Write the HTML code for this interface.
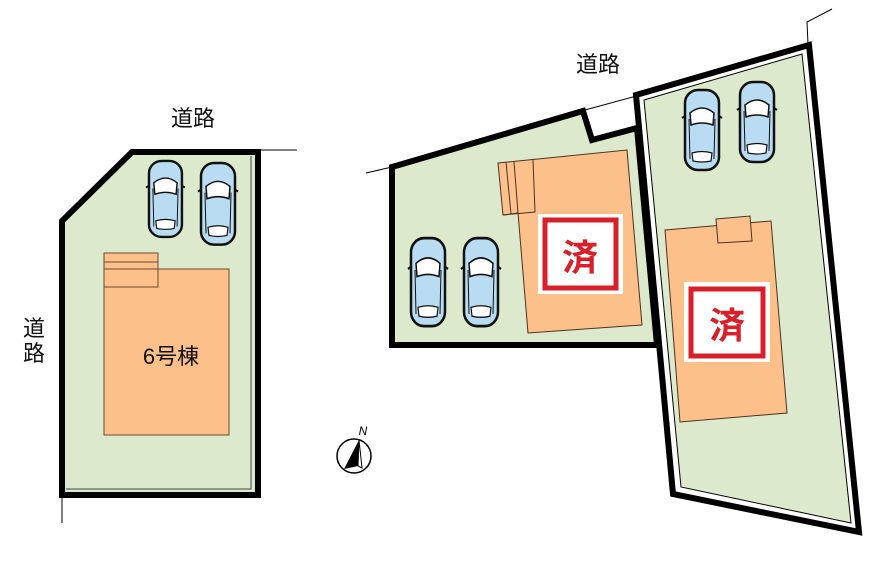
<!DOCTYPE html>
<html><head><meta charset="utf-8"><style>
html,body{margin:0;padding:0;background:#fff;width:889px;height:563px;overflow:hidden}
svg{display:block}
text{font-family:"Liberation Sans","Noto Sans CJK JP",sans-serif}
</style></head><body>
<svg width="889" height="563" viewBox="0 0 889 563" xmlns="http://www.w3.org/2000/svg">
<defs>
<g id="car">
<rect x="1" y="1" width="34" height="80" rx="13" fill="#b9dcf3" stroke="#111" stroke-width="2.5"/>
<path d="M6 24 Q18 14 30 24 L29 36 Q18 32 7 36 Z" fill="#fff" stroke="#111" stroke-width="1.5"/>
<path d="M8 64 Q18 61 28 64 L27 72 Q18 74 9 72 Z" fill="#fff" stroke="#111" stroke-width="1.2"/>
<line x1="5" y1="30" x2="6" y2="70" stroke="#111" stroke-width="1"/>
<line x1="31" y1="30" x2="30" y2="70" stroke="#111" stroke-width="1"/>
<path d="M1 27 l-3 2 M35 27 l3 2" stroke="#111" stroke-width="2"/>
</g>
</defs>

<!-- Left lot -->
<polygon points="132,152 258,152 258,495 62,495 62,221" fill="#dde9cc" stroke="#000" stroke-width="6" stroke-linejoin="miter"/>
<line x1="62" y1="221" x2="62" y2="523" stroke="#000" stroke-width="1"/>
<line x1="258" y1="150" x2="297" y2="150" stroke="#000" stroke-width="1"/>
<polyline points="66,489 251,489 251,156" fill="none" stroke="#444" stroke-width="1"/>
<rect x="104" y="269" width="125" height="166" fill="#fdc08a" stroke="#6a4a2a" stroke-width="1"/>
<rect x="104" y="253" width="54" height="34" fill="#fdc08a" stroke="#6a4a2a" stroke-width="1"/>
<line x1="104" y1="262" x2="158" y2="262" stroke="#6a4a2a" stroke-width="1"/>
<line x1="104" y1="269" x2="158" y2="269" stroke="#6a4a2a" stroke-width="1"/>
<use href="#car" transform="translate(148,160) scale(0.97,0.95)"/>
<use href="#car" transform="translate(200,162) scale(1.0,1.02)"/>
<text x="171" y="364" font-size="22" text-anchor="middle" fill="#111">6号棟</text>
<text x="193" y="126" font-size="22" text-anchor="middle" fill="#111">道路</text>
<text x="34" y="336" font-size="22" text-anchor="middle" fill="#111">道</text>
<text x="34" y="361" font-size="22" text-anchor="middle" fill="#111">路</text>

<!-- Middle lot -->
<line x1="366" y1="173" x2="392" y2="167" stroke="#000" stroke-width="1"/>
<line x1="585" y1="110" x2="640" y2="95" stroke="#000" stroke-width="1"/>
<polygon points="392,167 583,111 592,140 637,128 657,345 392,345" fill="#dde9cc" stroke="#000" stroke-width="6"/>
<polygon points="498,163 627,150 642,325 528,333 518,213 503,215" fill="#fdc08a" stroke="#4a3020" stroke-width="1"/>
<polyline points="503,215 535,212 533,160" fill="none" stroke="#4a3020" stroke-width="1"/>
<line x1="506" y1="162" x2="511" y2="214" stroke="#4a3020" stroke-width="1"/>
<line x1="514" y1="162" x2="518" y2="213" stroke="#4a3020" stroke-width="1"/>
<rect x="538" y="214" width="85" height="80" fill="#fff"/>
<rect x="545" y="220" width="71" height="68" fill="none" stroke="#d7202a" stroke-width="5"/>
<text x="580" y="270" font-size="36" font-weight="bold" text-anchor="middle" fill="#d7202a">済</text>
<use href="#car" transform="translate(410,237) scale(1.0,1.1)"/>
<use href="#car" transform="translate(463,237) scale(1.0,1.1)"/>
<text x="598" y="72" font-size="22" text-anchor="middle" fill="#111">道路</text>

<!-- Right lot -->
<polyline points="808,44 807,22 832,9" fill="none" stroke="#000" stroke-width="1"/>
<polygon points="636,95 809,45 859,532 673,494" fill="#fff" stroke="#000" stroke-width="6"/>
<polygon points="644,100 802,54 851,523 681,487" fill="#dde9cc" stroke="#000" stroke-width="1"/>
<polygon points="665,230 771,221 787,413 680,422" fill="#fdc08a" stroke="#4a3020" stroke-width="1"/>
<polygon points="716,219 750,216 752,241 718,243" fill="#fdc08a" stroke="#4a3020" stroke-width="1"/>
<rect x="684" y="282" width="86" height="80" fill="#fff"/>
<rect x="691" y="289" width="72" height="67" fill="none" stroke="#d7202a" stroke-width="5"/>
<text x="727" y="338" font-size="36" font-weight="bold" text-anchor="middle" fill="#d7202a">済</text>
<use href="#car" transform="translate(684,89) scale(1.0,1.0)"/>
<use href="#car" transform="translate(739,81) scale(1.0,1.0)"/>

<!-- Compass -->
<circle cx="354" cy="456" r="17" fill="#fff" stroke="#000" stroke-width="1.5"/>
<polygon points="359,440 344,469 358,466" fill="#000"/>
<polygon points="359,440 358,466 362,468" fill="#fff" stroke="#000" stroke-width="1"/>
<text x="363" y="435" font-size="12" font-style="italic" text-anchor="middle" fill="#000">N</text>
</svg>
</body></html>
